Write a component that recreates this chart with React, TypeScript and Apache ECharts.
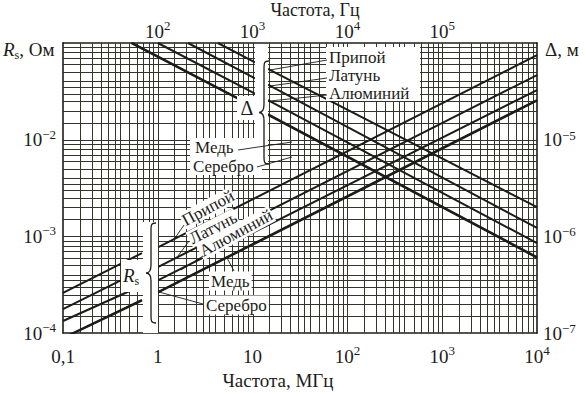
import React, { useEffect, useRef } from 'react';
import * as echarts from 'echarts';

const FONT = "'Liberation Serif', 'Times New Roman', 'DejaVu Serif', serif";
const INK = '#1c1c18';
const GRID = '#34342a';

const materials = ['Припой', 'Латунь', 'Алюминий', 'Медь', 'Серебро'];

// Surface resistance Rs (Ом) vs frequency (МГц)
const rsLeftFreq = [0.1, 0.68];
const rsLeftStart = [2.6e-4, 1.77e-4, 1.33e-4, 8.9e-5, 8.8e-5];
const rsLeftEnd = [6.7e-4, 4.5e-4, 3.1e-4, 2.2e-4, 2.17e-4];
const rsRightFreq = [1, 10000];
const rsRightStart = [7.7e-4, 4.8e-4, 3.5e-4, 2.65e-4, 2.61e-4];
const rsRightEnd = [7.5e-2, 4.66e-2, 3.26e-2, 2.57e-2, 2.53e-2];

// Skin depth Δ (м) vs frequency (МГц)
const deltaTopFreq = [4.3, 2.08, 1.0, 0.535, 0.525];
const deltaTopValue = 1e-4;
const deltaGapFreq = [10.6, 14.5];
const deltaGapStart = [6.3e-5, 4.3e-5, 3.0e-5, 2.17e-5, 2.14e-5];
const deltaGapEnd = [5.4e-5, 3.7e-5, 2.57e-5, 1.84e-5, 1.81e-5];
const deltaEndFreq = 10000;
const deltaEnd = [2.0e-6, 1.22e-6, 8.5e-7, 6.1e-7, 6.0e-7];

// Tick labels
const bottomTicks = [0.1, 1, 10, 100, 1000, 10000];
const bottomLabels = ['0,1', '1', '10', '10{sup|2}', '10{sup|3}', '10{sup|4}'];
const topTicks = [100, 1000, 10000, 100000];
const topLabels = ['10{sup|2}', '10{sup|3}', '10{sup|4}', '10{sup|5}'];
const leftTicks = [1e-4, 1e-3, 1e-2];
const leftLabels = ['10{sup|−4}', '10{sup|−3}', '10{sup|−2}'];
const rightTicks = [1e-7, 1e-6, 1e-5];
const rightLabels = ['10{sup|−7}', '10{sup|−6}', '10{sup|−5}'];

// log-paper grid
const gridSteps = [1, 1.5, 2, 2.5, 3, 3.5, 4, 5, 6, 7, 8, 9];
const freqDecades = [0.1, 1, 10, 100, 1000];
const rsDecades = [1e-4, 1e-3, 1e-2];

echarts.graphic.registerShape(
  'brace',
  echarts.graphic.extendPath(
    'M10 0 C5 0 5 2 5 8 L5 42 C5 48 3 50 0 50 C3 50 5 52 5 58 L5 92 C5 98 5 100 10 100',
    {}
  )
);

function pick(ticks: number[], labels: string[]) {
  return (v: number) => {
    const i = ticks.findIndex((t) => Math.abs(Math.log10(t) - Math.log10(v)) < 1e-6);
    return i >= 0 ? labels[i] : '';
  };
}

const supRich = {
  sup: { fontSize: 13, lineHeight: 13, verticalAlign: 'top', fontFamily: FONT, color: INK },
};

function axisLabel(ticks: number[], labels: string[], margin: number, lineHeight = 24) {
  return {
    show: true,
    formatter: pick(ticks, labels),
    fontFamily: FONT,
    fontSize: 19,
    color: INK,
    lineHeight,
    margin,
    rich: supRich,
    showMinLabel: true,
    showMaxLabel: true,
    hideOverlap: false,
  };
}

const axisLine = { show: true, onZero: false, lineStyle: { color: INK, width: 1.6 } };

function txt(text: string, x: number, y: number, o: any = {}) {
  return {
    type: 'text',
    z: 30,
    x,
    y,
    rotation: o.rotation || 0,
    style: {
      text,
      fill: INK,
      fontFamily: FONT,
      fontSize: o.size || 17,
      textAlign: o.align || 'left',
      align: o.align || 'left',
      textVerticalAlign: 'middle',
      verticalAlign: 'middle',
      lineHeight: o.lineHeight,
      rich: o.rich,
      backgroundColor: o.bg,
      padding: o.pad,
    },
  };
}

function leader(x1: number, y1: number, x2: number, y2: number) {
  return { type: 'line', z: 30, shape: { x1, y1, x2, y2 }, style: { stroke: INK, lineWidth: 0.9 } };
}

function white(x: number, y: number, w: number, h: number) {
  return { type: 'rect', z: 25, shape: { x, y, width: w, height: h }, style: { fill: '#fff' } };
}

function brace(x: number, y: number, w: number, h: number) {
  return {
    type: 'brace',
    z: 30,
    x,
    y,
    scaleX: w / 10,
    scaleY: h / 100,
    style: { stroke: INK, fill: 'none', lineWidth: 1.3, strokeNoScale: true },
  };
}

const rsRich = {
  i: { fontStyle: 'italic', fontSize: 19, lineHeight: 24, fontFamily: FONT, color: INK },
  s: { fontSize: 12, lineHeight: 12, verticalAlign: 'bottom', fontFamily: FONT, color: INK },
};

export default function App() {
  const ref = useRef<HTMLDivElement>(null);

  useEffect(() => {
    if (!ref.current) return;
    const chart = echarts.init(ref.current, undefined, { renderer: 'svg' });

    const gridData: number[][] = [];
    freqDecades.forEach((d) =>
      gridSteps.forEach((m) => {
        const v = d * m;
        if (v > 0.1 * 1.0001) gridData.push([v, 1e-3, 0]);
      })
    );
    rsDecades.forEach((d) =>
      gridSteps.forEach((m) => {
        const v = d * m;
        if (v > 1e-4 * 1.0001) gridData.push([1, v, 1]);
      })
    );

    const lineStyle = { color: INK, width: 2 };
    const seg = (name: string, data: number[][], yAxisIndex: number) => ({
      type: 'line',
      name,
      data,
      xAxisIndex: 0,
      yAxisIndex,
      showSymbol: false,
      symbol: 'none',
      lineStyle,
      silent: true,
      clip: true,
      z: 5,
    });

    const series: any[] = [
      {
        type: 'custom',
        name: 'grid',
        xAxisIndex: 0,
        yAxisIndex: 0,
        silent: true,
        clip: false,
        z: 1,
        data: gridData,
        encode: { x: 0, y: 1 },
        renderItem: (params: any, api: any) => {
          const cs = params.coordSys;
          const kind = api.value(2);
          if (kind === 0) {
            const p = api.coord([api.value(0), 1e-3]);
            const x = Math.round(p[0]) + 0.5;
            return {
              type: 'line',
              shape: { x1: x, y1: cs.y, x2: x, y2: cs.y + cs.height },
              style: { stroke: GRID, lineWidth: 1 },
            };
          }
          const p = api.coord([1, api.value(1)]);
          const y = Math.round(p[1]) + 0.5;
          return {
            type: 'line',
            shape: { x1: cs.x, y1: y, x2: cs.x + cs.width, y2: y },
            style: { stroke: GRID, lineWidth: 1 },
          };
        },
      },
    ];

    materials.forEach((m, i) => {
      series.push(seg('Rs ' + m, [[rsLeftFreq[0], rsLeftStart[i]], [rsLeftFreq[1], rsLeftEnd[i]]], 0));
      series.push(seg('Rs ' + m, [[rsRightFreq[0], rsRightStart[i]], [rsRightFreq[1], rsRightEnd[i]]], 0));
      series.push(seg('Δ ' + m, [[deltaTopFreq[i], deltaTopValue], [deltaGapFreq[0], deltaGapStart[i]]], 1));
      series.push(seg('Δ ' + m, [[deltaGapFreq[1], deltaGapEnd[i]], [deltaEndFreq, deltaEnd[i]]], 1));
    });

    const graphic: any[] = [
      // label backgrounds (grid cleared)
      white(326, 47, 94, 54),
      white(255, 44, 13, 124),
      white(237, 96, 21, 24),
      white(190, 138, 72, 37),
      white(143, 222, 15, 111),
      white(121, 260, 22, 32),
      // unit labels
      txt('{i|R}{s|s}, Ом', 3, 49, { size: 19, lineHeight: 24, rich: rsRich }),
      txt('Δ, м', 545, 49, { size: 19 }),
      txt('Частота, Гц', 315, 9.5, { size: 18, align: 'center', lineHeight: 17 }),
      txt('Частота, МГц', 278, 380, { size: 19, align: 'center' }),
      // Δ group
      txt('Припой', 329, 57, { lineHeight: 17 }),
      txt('Латунь', 329, 75, { lineHeight: 17 }),
      txt('Алюминий', 329, 93, { lineHeight: 17 }),
      leader(327, 60, 270, 70),
      leader(327, 78, 270, 86),
      leader(327, 95, 270, 101),
      txt('Δ', 247, 108, { size: 20, align: 'center' }),
      brace(259, 61, 10, 103),
      txt('Медь', 195, 147.5, { lineHeight: 16 }),
      txt('Серебро', 193, 166.5, { lineHeight: 16 }),
      leader(238, 150, 292, 142),
      leader(257, 167, 292, 157),
      // Rs group
      txt('{i|R}{s|s}', 131, 275, { size: 19, align: 'center', lineHeight: 24, rich: rsRich }),
      brace(146, 223, 10, 100),
      txt('Припой', 208, 208, { rotation: 0.49, align: 'center', bg: '#fff', pad: [0, 1] }),
      txt('Латунь', 213, 228, { rotation: 0.47, align: 'center', bg: '#fff', pad: [0, 1] }),
      txt('Алюминий', 236, 233, { rotation: 0.5, align: 'center', bg: '#fff', pad: [0, 1] }),
      leader(184, 225, 175, 238),
      leader(189, 241, 178, 256),
      leader(203, 256, 181, 270),
      txt('Медь', 209, 281, { bg: '#fff', pad: [1, 2] }),
      txt('Серебро', 204, 305, { bg: '#fff', pad: [1, 2] }),
      leader(227, 258, 234, 271),
      leader(159, 292, 203, 304),
    ];

    chart.setOption({
      animation: false,
      backgroundColor: '#fff',
      grid: { left: 63, right: 48, top: 43, bottom: 60, containLabel: false },
      xAxis: [
        {
          type: 'log',
          logBase: 10,
          min: 0.1,
          max: 10000,
          position: 'bottom',
          axisLine,
          axisTick: { show: false },
          splitLine: { show: false },
          minorSplitLine: { show: false },
          axisLabel: axisLabel(bottomTicks, bottomLabels, 11),
        },
        {
          type: 'log',
          logBase: 10,
          min: 10,
          max: 1000000,
          position: 'top',
          axisLine,
          axisTick: { show: false },
          splitLine: { show: false },
          axisLabel: axisLabel(topTicks, topLabels, 0),
        },
      ],
      yAxis: [
        {
          type: 'log',
          logBase: 10,
          min: 1e-4,
          max: 1e-1,
          position: 'left',
          axisLine,
          axisTick: { show: false },
          splitLine: { show: false },
          axisLabel: axisLabel(leftTicks, leftLabels, 7),
        },
        {
          type: 'log',
          logBase: 10,
          min: 1e-7,
          max: 1e-4,
          position: 'right',
          axisLine,
          axisTick: { show: false },
          splitLine: { show: false },
          axisLabel: axisLabel(rightTicks, rightLabels, 6, 22),
        },
      ],
      series,
      graphic,
    });

    return () => chart.dispose();
  }, []);

  return (
    <div
      ref={ref}
      style={{ position: 'fixed', left: 0, top: 0, width: 585, height: 393, background: '#fff' }}
    />
  );
}
